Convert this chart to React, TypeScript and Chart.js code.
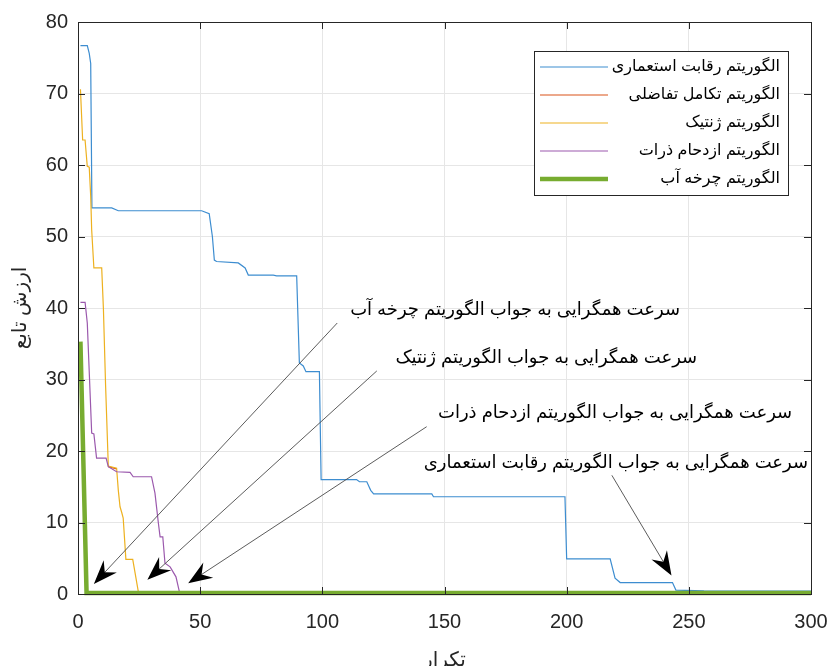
import React, { useEffect, useRef } from 'react';
import { Chart, registerables } from 'chart.js';

Chart.register(...registerables);

const WIDTH = 827;
const HEIGHT = 666;
const FONT = '"Liberation Sans", Arial, "DejaVu Sans", sans-serif';

// Iteration / cost pairs for each algorithm
const icaIter = [1, 3.8, 4.6, 5.2, 5.7, 13.8, 16.5, 50.6, 53.7, 55.0, 55.8, 56.7, 65.6, 68.4, 69.7, 79.9, 81.3, 89.5, 90.6, 92.2, 93.3, 98.8, 99.5, 114, 115.2, 118.2, 119.8, 121, 144.8, 145.5, 199.3, 200, 217.8, 219.8, 221.9, 243.3, 244.7, 256.2, 300];
const icaCost = [76.7, 76.7, 75.6, 74.2, 54.0, 54.0, 53.6, 53.6, 53.2, 50.0, 46.7, 46.5, 46.3, 45.6, 44.6, 44.6, 44.5, 44.5, 32.3, 31.9, 31.1, 31.1, 16.0, 16.0, 15.7, 15.7, 14.5, 14.0, 14.0, 13.6, 13.6, 4.9, 4.9, 2.2, 1.6, 1.6, 0.55, 0.45, 0.4];

const deIter = [12.4, 15.8];
const deCost = [17.8, 17.5];

const gaIter = [1, 1.9, 2.9, 3.8, 4.6, 5.2, 5.6, 6.5, 9.7, 10.4, 11.3, 12.4, 15.8, 16.5, 17.2, 17.9, 18.5, 19.6, 22.4, 24.7, 25, 300];
const gaCost = [70.6, 63.5, 63.5, 59.8, 59.7, 55.6, 50.9, 45.6, 45.6, 39.9, 29.1, 17.9, 17.6, 14.5, 12.2, 11.4, 10.6, 4.85, 4.85, 0.3, 0, 0];

const psoIter = [1, 2.9, 3.8, 4.9, 5.6, 6.5, 7.6, 11.5, 12.4, 15.8, 21.3, 22.6, 30.1, 31.5, 32.9, 33.6, 34.7, 35.6, 37.7, 40.1, 41.5, 42, 300];
const psoCost = [40.8, 40.8, 37.9, 28.5, 22.5, 22.4, 19.0, 19.0, 17.8, 17.1, 17.0, 16.4, 16.4, 14.1, 9.9, 8.0, 8.0, 4.3, 3.8, 2.4, 0.3, 0, 0];

const wcaIter = [1, 3.5, 300];
const wcaCost = [35.3, 0.15, 0.15];

const seriesNames = [
  'الگوریتم رقابت استعماری',
  'الگوریتم تکامل تفاضلی',
  'الگوریتم ژنتیک',
  'الگوریتم ازدحام ذرات',
  'الگوریتم چرخه آب',
];
const seriesColors = ['#3D8DD0', '#D95319', '#EDB120', '#9B59AD', '#77AC30'];
const seriesWidths = [1.2, 1.2, 1.2, 1.2, 4.5];

const xTicks = [0, 50, 100, 150, 200, 250, 300];
const yTicks = [0, 10, 20, 30, 40, 50, 60, 70, 80];

const xTitle = 'تکرار';
const yTitle = 'ارزش تابع';

// Callout texts with their anchor (right end, vertical centre) and arrow tail/tip, in data units
const callouts = [
  { text: 'سرعت همگرایی به جواب الگوریتم چرخه آب', at: [246.4, 39.7], from: [106.1, 37.9], to: [6.5, 1.4] },
  { text: 'سرعت همگرایی به جواب الگوریتم ژنتیک', at: [253.4, 33.0], from: [122.3, 31.2], to: [28.4, 2.0] },
  { text: 'سرعت همگرایی به جواب الگوریتم ازدحام ذرات', at: [292.3, 25.3], from: [142.7, 23.4], to: [45.1, 1.5] },
  { text: 'سرعت همگرایی به جواب الگوریتم رقابت استعماری', at: [298.8, 18.3], from: [218.5, 16.6], to: [242.9, 2.6] },
];

const pairs = (xs: number[], ys: number[]) => xs.map((x, i) => ({ x, y: ys[i] }));

function drawArrow(ctx: CanvasRenderingContext2D, x0: number, y0: number, x1: number, y1: number) {
  const dx = x1 - x0;
  const dy = y1 - y0;
  const len = Math.hypot(dx, dy);
  const ux = dx / len;
  const uy = dy / len;
  const nx = -uy;
  const ny = ux;
  const headLen = 24;
  const headHalf = 9;
  const notch = 16;
  ctx.save();
  ctx.strokeStyle = '#4a4a4a';
  ctx.lineWidth = 0.9;
  ctx.beginPath();
  ctx.moveTo(x0, y0);
  ctx.lineTo(x1 - ux * notch, y1 - uy * notch);
  ctx.stroke();
  const bx = x1 - ux * headLen;
  const by = y1 - uy * headLen;
  ctx.fillStyle = '#000';
  ctx.beginPath();
  ctx.moveTo(x1, y1);
  ctx.lineTo(bx + nx * headHalf, by + ny * headHalf);
  ctx.lineTo(x1 - ux * notch, y1 - uy * notch);
  ctx.lineTo(bx - nx * headHalf, by - ny * headHalf);
  ctx.closePath();
  ctx.fill();
  ctx.restore();
}

const overlayPlugin = {
  id: 'overlay',
  afterDraw(chart: any) {
    const { ctx, chartArea: a, scales } = chart;
    const xs = scales.x;
    const ys = scales.y;
    ctx.save();

    // box and inward ticks
    ctx.strokeStyle = '#262626';
    ctx.lineWidth = 1;
    ctx.strokeRect(Math.round(a.left) + 0.5, Math.round(a.top) + 0.5, Math.round(a.right - a.left), Math.round(a.bottom - a.top));
    const tl = 7;
    ctx.beginPath();
    xTicks.forEach((v) => {
      const px = Math.round(xs.getPixelForValue(v)) + 0.5;
      ctx.moveTo(px, a.bottom);
      ctx.lineTo(px, a.bottom - tl);
      ctx.moveTo(px, a.top);
      ctx.lineTo(px, a.top + tl);
    });
    yTicks.forEach((v) => {
      const py = Math.round(ys.getPixelForValue(v)) + 0.5;
      ctx.moveTo(a.left, py);
      ctx.lineTo(a.left + tl, py);
      ctx.moveTo(a.right, py);
      ctx.lineTo(a.right - tl, py);
    });
    ctx.stroke();

    // callouts
    ctx.fillStyle = '#000';
    ctx.font = `18px ${FONT}`;
    ctx.textAlign = 'right';
    ctx.textBaseline = 'middle';
    (ctx as any).direction = 'rtl';
    callouts.forEach((c) => {
      drawArrow(
        ctx,
        xs.getPixelForValue(c.from[0]), ys.getPixelForValue(c.from[1]),
        xs.getPixelForValue(c.to[0]), ys.getPixelForValue(c.to[1]),
      );
      ctx.fillText(c.text, xs.getPixelForValue(c.at[0]), ys.getPixelForValue(c.at[1]));
    });

    // legend
    const lgRight = a.right - 23;
    const lgLeft = a.left + 456;
    const lgTop = a.top + 29;
    const rowH = 28;
    const lgBottom = lgTop + rowH * seriesNames.length + 4;
    ctx.fillStyle = '#fff';
    ctx.fillRect(lgLeft, lgTop, lgRight - lgLeft, lgBottom - lgTop);
    ctx.strokeStyle = '#262626';
    ctx.lineWidth = 1;
    ctx.strokeRect(lgLeft + 0.5, lgTop + 0.5, lgRight - lgLeft, lgBottom - lgTop);
    ctx.font = `16px ${FONT}`;
    seriesNames.forEach((name, i) => {
      const cy = lgTop + 16 + i * rowH;
      ctx.strokeStyle = seriesColors[i];
      ctx.lineWidth = seriesWidths[i];
      ctx.beginPath();
      ctx.moveTo(lgLeft + 6, cy);
      ctx.lineTo(lgLeft + 74, cy);
      ctx.stroke();
      ctx.fillStyle = '#000';
      ctx.fillText(name, lgRight - 8, cy);
    });

    // axis titles
    ctx.fillStyle = '#262626';
    ctx.font = `20px ${FONT}`;
    ctx.textAlign = 'center';
    ctx.fillText(xTitle, (a.left + a.right) / 2, 660);
    ctx.save();
    ctx.translate(20, (a.top + a.bottom) / 2);
    ctx.rotate(-Math.PI / 2);
    ctx.fillText(yTitle, 0, 0);
    ctx.restore();

    ctx.restore();
  },
};

export default function App() {
  const canvasRef = useRef<HTMLCanvasElement | null>(null);

  useEffect(() => {
    document.body.style.margin = '0';
    const canvas = canvasRef.current;
    if (!canvas) return;
    const data = [
      pairs(icaIter, icaCost),
      pairs(deIter, deCost),
      pairs(gaIter, gaCost),
      pairs(psoIter, psoCost),
      pairs(wcaIter, wcaCost),
    ];
    const chart = new Chart(canvas, {
      type: 'line',
      data: {
        datasets: data.map((d, i) => ({
          label: seriesNames[i],
          data: d,
          borderColor: seriesColors[i],
          backgroundColor: seriesColors[i],
          borderWidth: seriesWidths[i],
          pointRadius: 0,
          tension: 0,
          fill: false,
          order: data.length - i,
          clip: 6,
        })),
      },
      options: {
        responsive: false,
        animation: false,
        devicePixelRatio: 1,
        layout: { padding: { top: 22, right: 16, left: 0, bottom: 0 } },
        plugins: { legend: { display: false }, tooltip: { enabled: false } },
        scales: {
          x: {
            type: 'linear',
            min: 0,
            max: 300,
            afterBuildTicks: (s: any) => { s.ticks = xTicks.map((v) => ({ value: v })); },
            afterFit: (s: any) => { s.height = 72; s.paddingLeft = 0; s.paddingRight = 0; },
            grid: { color: '#E6E6E6', drawTicks: false },
            border: { display: false },
            ticks: { padding: 16, maxRotation: 0, color: '#262626', font: { family: FONT, size: 20 } },
          },
          y: {
            type: 'linear',
            min: 0,
            max: 80,
            afterBuildTicks: (s: any) => { s.ticks = yTicks.map((v) => ({ value: v })); },
            afterFit: (s: any) => { s.width = 78; s.paddingTop = 0; s.paddingBottom = 0; },
            grid: { color: '#E6E6E6', drawTicks: false },
            border: { display: false },
            ticks: { padding: 10, color: '#262626', font: { family: FONT, size: 20 } },
          },
        },
      },
      plugins: [overlayPlugin],
    });
    return () => chart.destroy();
  }, []);

  return (
    <div style={{ position: 'fixed', left: 0, top: 0, width: WIDTH, height: HEIGHT, background: '#fff' }}>
      <canvas ref={canvasRef} width={WIDTH} height={HEIGHT} style={{ width: WIDTH, height: HEIGHT }} />
    </div>
  );
}
